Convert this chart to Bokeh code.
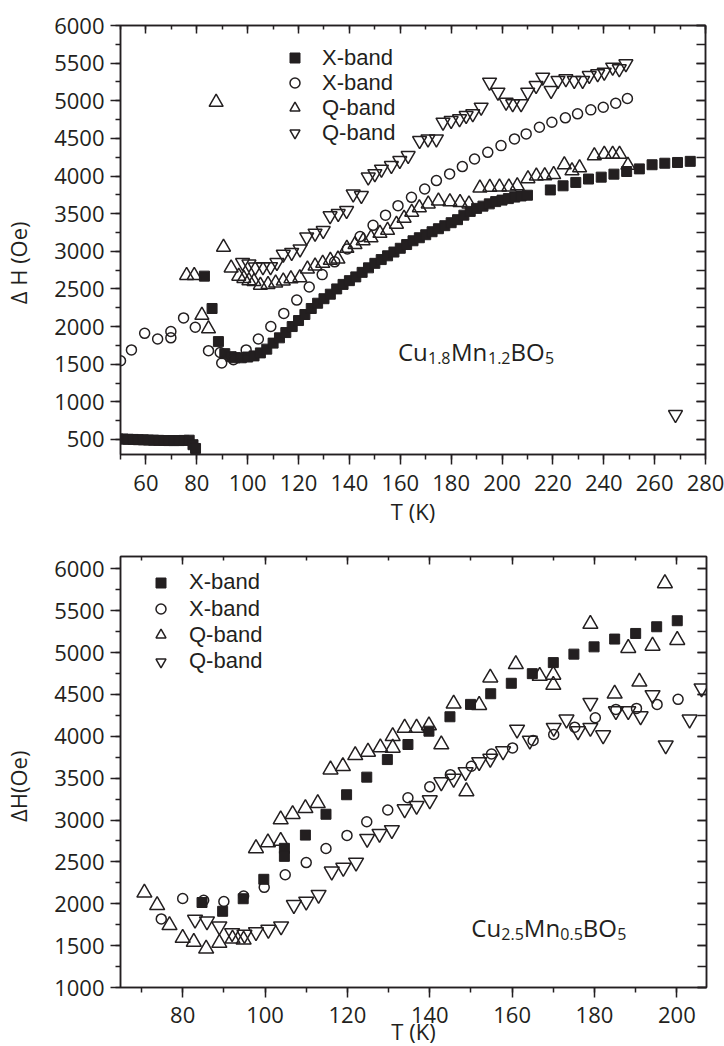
from bokeh.plotting import figure
from bokeh.models import (LinearAxis, SingleIntervalTicker, Range1d, Legend,
                          LegendItem, Label, CustomJSTickFormatter)
from bokeh.layouts import column
from bokeh.embed import file_html
from bokeh.resources import INLINE

FONT = "Open Sans"
LEG_FONT = "Liberation Sans"
INK = "#231f20"

# ---------------- top panel data : Cu1.8Mn1.2BO5 ----------------
top_xf_T = [47, 49, 51, 53, 55, 57, 59, 61, 63, 65, 67, 69, 71, 73, 75, 77, 78.5, 79.5,
            83, 86, 88.5, 91, 93.5,
            95, 97.5, 100, 102.5, 105, 107.5, 110, 112.5, 115, 117.5, 120, 122.5, 125,
            127.5, 130, 132.5, 135, 137.5, 140, 142.5, 145, 147.5, 150, 152.5, 155,
            157.5, 160, 162.5, 165, 167.5, 170, 172.5, 175, 177.5, 180, 182.5, 185,
            187.5, 190, 192.5, 195, 197.5, 200, 202.5, 205, 207.5, 210,
            219, 224, 229, 234, 239, 244, 249, 254, 259, 264, 269, 274]
top_xf_H = [510, 507, 505, 502, 500, 497, 495, 492, 490, 488, 486, 485, 485, 485, 487, 490, 430, 380,
            2670, 2240, 1800, 1640, 1600,
            1585, 1585, 1595, 1610, 1650, 1700, 1780, 1850, 1920, 2000, 2080, 2160, 2240,
            2310, 2370, 2430, 2500, 2560, 2610, 2660, 2720, 2780, 2840, 2890, 2940,
            2990, 3040, 3090, 3140, 3180, 3220, 3260, 3300, 3340, 3380, 3420, 3480,
            3530, 3570, 3600, 3630, 3660, 3680, 3700, 3720, 3735, 3745,
            3815, 3870, 3915, 3960, 3985, 4025, 4060, 4095, 4150, 4170, 4180, 4195]

top_xo_T = [44, 50, 54.3, 59.5, 64.6, 69.8, 69.8, 74.8, 79.4, 84.6, 89.2, 89.8, 94.4, 99.4,
            104.2, 109.1, 114.2, 119.3, 124.2, 129.3, 134.2, 139.2, 144.2, 149.3, 154.2,
            159.1, 164.4, 169.6, 174.2, 179.4, 184.4, 189.2, 194.4, 199.6, 204.9, 209.5,
            214.7, 219.6, 224.9, 229.7, 234.9, 239.8, 244.7, 249.3]
top_xo_H = [1545, 1545, 1690, 1910, 1835, 1935, 1850, 2115, 1990, 1680, 1655, 1515, 1560, 1690,
            1835, 2000, 2175, 2352, 2525, 2690, 2860, 3030, 3195, 3345, 3480,
            3606, 3717, 3828, 3939, 4028, 4125, 4227, 4315, 4404, 4493, 4560,
            4648, 4714, 4773, 4826, 4879, 4914, 4967, 5030]

top_qu_T = [76, 79, 82, 84.6, 87.6, 90.5, 93.5, 96.5, 98.5, 100.5, 102.5, 105, 108, 111, 114,
            117, 120.5, 123.5, 126.5, 129.5, 132.5, 135.5, 139, 142.2, 145.4, 148.5, 152,
            155, 158.5, 161.5, 164.5, 167.5, 171, 175, 179.5, 183.5, 187, 191.3, 195.2,
            199, 202.7, 206, 210.2, 213.5, 216.8, 220.3, 224.5, 227.5, 230.5, 236.3,
            240.2, 243.5, 246.2, 249.5]
top_qu_H = [2680, 2680, 2150, 1970, 4980, 3055, 2780, 2670, 2640, 2610, 2600, 2550, 2560, 2580,
            2605, 2635, 2650, 2765, 2805, 2840, 2880, 2897, 3040, 3090, 3140, 3180, 3240,
            3280, 3360, 3440, 3520, 3580, 3630, 3670, 3660, 3650, 3630, 3840, 3850,
            3855, 3855, 3870, 3965, 4000, 4005, 4020, 4150, 4070, 4110, 4270,
            4290, 4290, 4290, 4145]

top_qd_T = [98, 100.5, 103, 106, 109, 111.5, 114, 117.3, 120.6, 123.2, 126.5, 129.7, 132.4,
            135.6, 138.9, 141.5, 144.7, 147.4, 150, 152.6, 156.5, 159.8, 163.1, 167.6,
            170.9, 174.2, 176.8, 180, 183.3, 185.9, 188.5, 191.8, 195.1, 198.4, 201.6,
            204.2, 207.5, 210.1, 213.4, 216, 219.3, 222, 225.1, 228.4, 231.7, 234.3,
            237.6, 240.2, 243.5, 246.1, 248.7, 268.2]
top_qd_H = [2850, 2830, 2790, 2795, 2795, 2850, 2960, 2985, 3030, 3190, 3240, 3275, 3470,
            3500, 3540, 3760, 3740, 3985, 4030, 4090, 4138, 4205, 4271, 4471,
            4493, 4493, 4714, 4737, 4760, 4803, 4826, 4914, 5246, 5113, 4980,
            4959, 4959, 5113, 5202, 5313, 5135, 5269, 5291, 5269, 5269, 5335,
            5357, 5379, 5446, 5424, 5490, 830]

# ---------------- bottom panel data : Cu2.5Mn0.5BO5 ----------------
bot_xf_T = [84.7, 89.7, 94.7, 99.7, 104.7, 104.7, 109.8, 114.8, 119.8, 124.7, 129.7, 134.7,
            139.8, 144.9, 149.9, 154.8, 159.8, 164.9, 170, 175, 179.9, 184.9, 190, 195.1, 200.1]
bot_xf_H = [2015, 1910, 2060, 2292, 2662, 2566, 2820, 3069, 3302, 3512, 3722, 3902,
            4061, 4233, 4381, 4508, 4633, 4748, 4880, 4981, 5068, 5161, 5228, 5308, 5380]

bot_xo_T = [74.8, 80, 85.1, 90, 94.8, 99.8, 104.9, 110, 114.8, 119.9, 124.7, 129.8, 134.7,
            140, 145, 150.1, 155, 160.1, 165.1, 170.1, 175.2, 180.2, 185.2, 190.2, 195.2, 200.3]
bot_xo_H = [1819, 2063, 2041, 2027, 2093, 2196, 2346, 2492, 2660, 2816, 2980, 3120, 3266,
            3396, 3542, 3642, 3789, 3861, 3950, 4022, 4109, 4221, 4321, 4333, 4381, 4441]

bot_qu_T = [70.7, 73.8, 76.8, 80, 82.7, 85.7, 88.9, 92.1, 94.8, 97.8, 100.7, 103.8, 103.8,
            106.7, 109.8, 112.8, 115.9, 118.9, 121.9, 125, 128, 131, 131, 133.9, 136.8,
            139.8, 142.8, 145.8, 148.9, 152, 154.7, 160.9, 166.7, 170, 170, 179, 184.9,
            188.2, 190.9, 194.1, 197.1, 200.1]
bot_qu_H = [2131, 1983, 1743, 1591, 1543, 1463, 1531, 1583, 1571, 2662, 2732, 2750, 3006,
            3070, 3141, 3200, 3602, 3642, 3774, 3814, 3866, 3862, 4001, 4101, 4101,
            4129, 3902, 4389, 3342, 4373, 4700, 4861, 4720, 4733, 4613, 5341, 4508,
            5053, 4652, 5080, 5827, 5149]

bot_qd_T = [83, 85.9, 88.9, 92, 95, 97.8, 100.8, 103.9, 107, 110, 113, 116.2, 119, 122.1,
            124.8, 127.8, 130.8, 133.9, 136.8, 140, 142.8, 145.8, 148.7, 152, 154.7,
            157.8, 161.2, 164.3, 170.1, 173.2, 176, 179, 179, 182.1, 185.2, 188.2,
            191.2, 194.1, 197.3, 203.1, 206]
bot_qd_H = [1811, 1791, 1731, 1651, 1631, 1663, 1691, 1731, 1987, 2027, 2107, 2387, 2431,
            2492, 2776, 2836, 2880, 3130, 3170, 3237, 3453, 3494, 3573, 3693, 3733,
            3822, 4081, 3950, 4101, 4201, 4061, 4101, 4401, 4013, 4301, 4301,
            4241, 4493, 3893, 4201, 4573]

legend_labels = ["X-band", "X-band", "Q-band", "Q-band"]
top_formula = [("Cu", False), ("1.8", True), ("Mn", False), ("1.2", True), ("BO", False), ("5", True)]
bot_formula = [("Cu", False), ("2.5", True), ("Mn", False), ("0.5", True), ("BO", False), ("5", True)]

NBSP = "\u00a0"


def make_panel(xr, yr, fw, fh, borders, tick_standoff, xlabel_standoff, ylabel):
    left, right, top, bottom = borders
    p = figure(frame_width=fw, frame_height=fh, x_range=Range1d(*xr), y_range=Range1d(*yr),
               output_backend="svg", toolbar_location=None,
               min_border_left=left, min_border_right=right,
               min_border_top=top, min_border_bottom=bottom,
               background_fill_color="white", border_fill_color="white")
    p.outline_line_color = INK
    p.outline_line_width = 1.5
    p.xgrid.visible = False
    p.ygrid.visible = False

    xt = SingleIntervalTicker(interval=20, num_minor_ticks=2)
    yt = SingleIntervalTicker(interval=500, num_minor_ticks=2)
    p.xaxis.ticker = xt
    p.yaxis.ticker = yt
    for ax in (p.xaxis[0], p.yaxis[0]):
        ax.axis_line_color = INK
        ax.axis_line_width = 1.5
        ax.major_tick_line_color = INK
        ax.minor_tick_line_color = INK
        ax.major_tick_line_width = 1.5
        ax.minor_tick_line_width = 1.5
        ax.major_tick_in = 0
        ax.major_tick_out = 10
        ax.minor_tick_in = 0
        ax.minor_tick_out = 5
        ax.major_label_text_font = FONT
        ax.major_label_text_font_size = "22px"
        ax.major_label_text_color = INK
        ax.axis_label_text_font = FONT
        ax.axis_label_text_font_size = "22px"
        ax.axis_label_text_font_style = "normal"
        ax.axis_label_text_color = INK
    p.xaxis.major_label_standoff = tick_standoff
    p.yaxis.major_label_standoff = 6
    p.xaxis.axis_label = "T (K)"
    p.xaxis.axis_label_standoff = xlabel_standoff
    p.yaxis.axis_label = ylabel
    p.yaxis.axis_label_standoff = 18

    blank = CustomJSTickFormatter(code="return ''")
    above = LinearAxis(ticker=xt, formatter=blank, major_tick_in=8, major_tick_out=0,
                       minor_tick_in=4, minor_tick_out=0, major_label_standoff=0,
                       axis_line_color=INK, axis_line_width=1.5,
                       major_tick_line_color=INK, minor_tick_line_color=INK,
                       major_tick_line_width=1.5, minor_tick_line_width=1.5)
    right_ax = LinearAxis(ticker=yt, formatter=CustomJSTickFormatter(code="return ''"),
                          major_tick_in=9, major_tick_out=0,
                          minor_tick_in=9, minor_tick_out=0, major_label_standoff=0,
                          axis_line_color=INK, axis_line_width=1.5,
                          major_tick_line_color=INK, minor_tick_line_color=INK,
                          major_tick_line_width=1.5, minor_tick_line_width=1.5)
    p.add_layout(above, "above")
    p.add_layout(right_ax, "right")
    return p


def add_series(p, data, tri_size):
    (xfT, xfH), (xoT, xoH), (quT, quH), (qdT, qdH) = data
    r1 = p.scatter(xfT, xfH, marker="square", size=10, fill_color=INK, line_color=INK, line_width=1)
    r2 = p.scatter(xoT, xoH, marker="circle", size=10, fill_color=None, line_color=INK, line_width=1.5)
    r3 = p.scatter(quT, quH, marker="triangle", size=tri_size, fill_color=None, line_color=INK, line_width=1.5)
    r4 = p.scatter(qdT, qdH, marker="inverted_triangle", size=tri_size, fill_color=None, line_color=INK, line_width=1.5)
    return [r1, r2, r3, r4]


def add_legend(p, rends, x, ys, standoff):
    # one single-row legend per entry, so rows can be packed as tightly as in the original
    for lab, r, y in zip(legend_labels, rends, ys):
        leg = Legend(items=[LegendItem(label=lab, renderers=[r])], location=(x, y),
                     label_text_font=LEG_FONT, label_text_font_size="22px", label_text_color=INK,
                     border_line_color=None, background_fill_alpha=0, padding=0, margin=0,
                     spacing=0, glyph_width=25, glyph_height=25, label_height=25,
                     label_standoff=standoff)
        p.add_layout(leg)


def add_formula(p, x, y, parts, offsets):
    for (txt, sub), dx in zip(parts, offsets):
        p.add_layout(Label(x=x, y=y, text=txt, x_offset=dx, y_offset=-6.5 if sub else 0,
                           text_font=FONT, text_font_size="16px" if sub else "24px",
                           text_color=INK, text_align="left", text_baseline="alphabetic"))


# trailing no-break spaces push the rotated y label below the frame centre, as in the original
p1 = make_panel((50, 280), (300, 6000), 585, 429, (117, 20, 25, 80), 10, 2,
                "Δ H (Oe)" + NBSP * 8)
r_top = add_series(p1, [(top_xf_T, top_xf_H), (top_xo_T, top_xo_H),
                        (top_qu_T, top_qu_H), (top_qd_T, top_qd_H)], 14)
add_legend(p1, r_top, 162, [383.5, 358.5, 333.5, 308.5], 15)
add_formula(p1, 159.1, 1665, top_formula, [0, 30, 53, 90, 112.5, 147])

p2 = make_panel((64.9, 207.2), (1000, 6147), 586, 431, (116, 20, 22, 59), 9, -10,
                "ΔH(Oe)" + NBSP * 5)
r_bot = add_series(p2, [(bot_xf_T, bot_xf_H), (bot_xo_T, bot_xo_H),
                        (bot_qu_T, bot_qu_H), (bot_qd_T, bot_qd_H)], 15)
add_legend(p2, r_bot, 28, [391.8, 365.5, 339.5, 312.8], 16)
add_formula(p2, 150.1, 1719, bot_formula, [0, 30, 52.5, 89, 111.5, 146])

layout = column(p1, p2, spacing=0)
open("out.html", "w").write(file_html(layout, INLINE))
